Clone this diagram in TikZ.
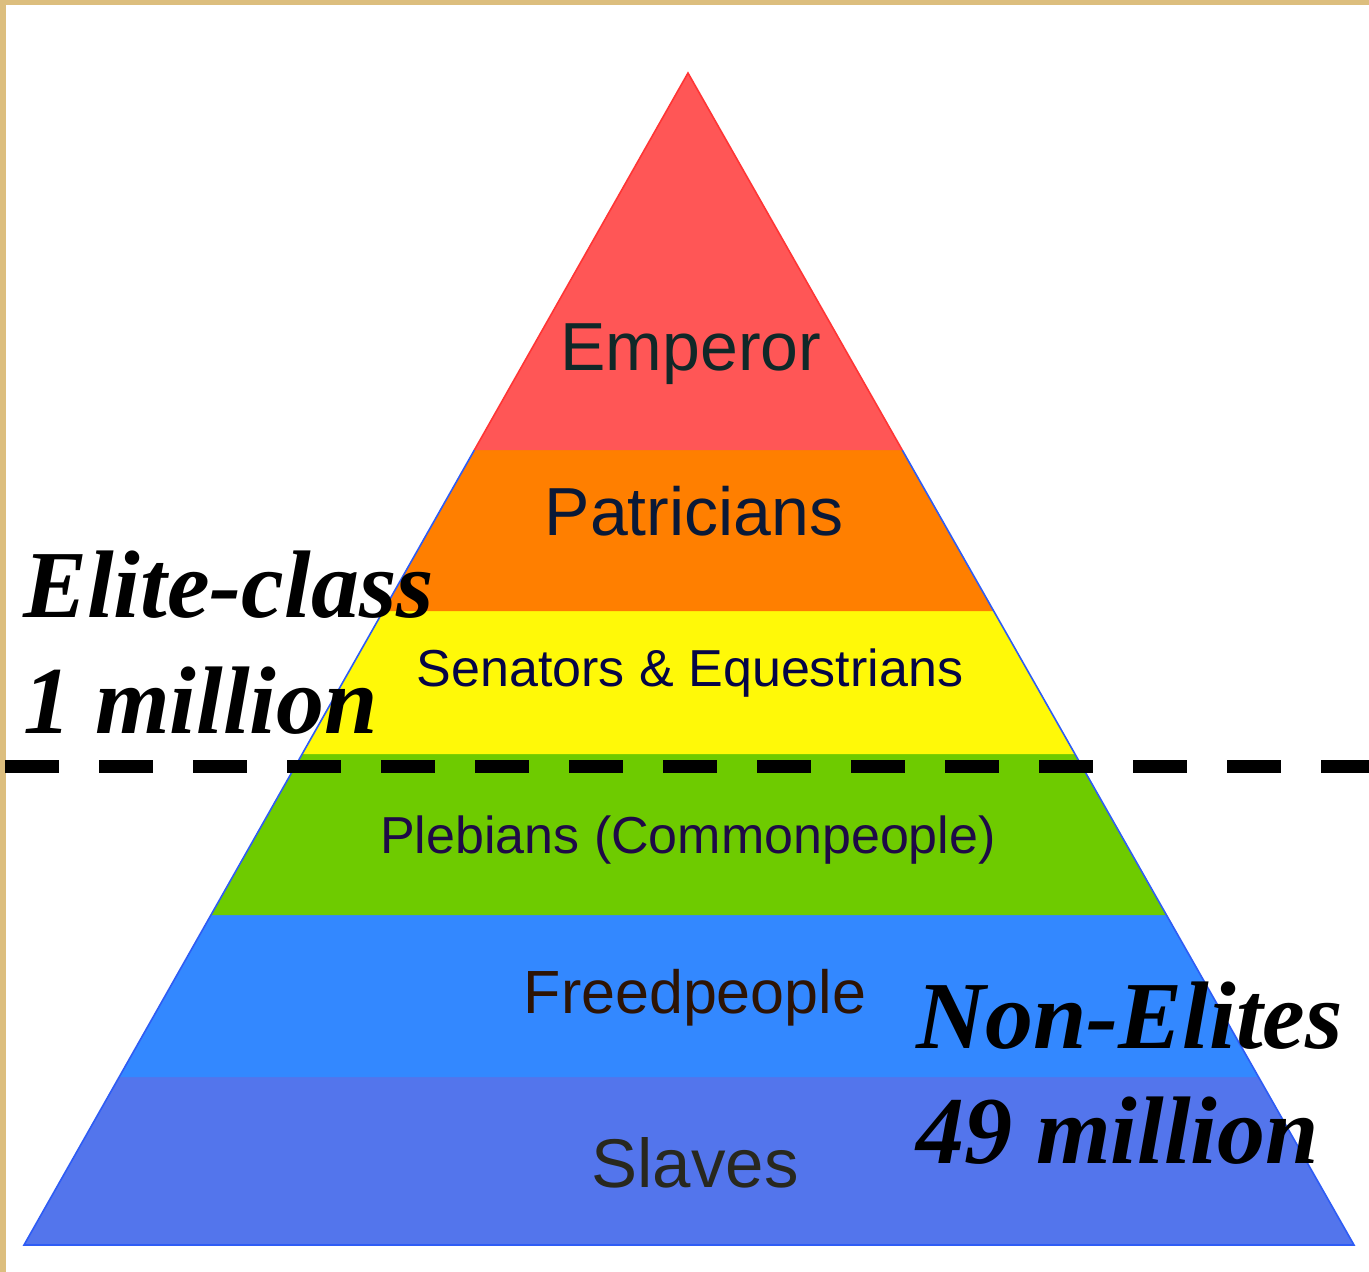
\documentclass[tikz,border=0pt]{standalone}
\usepackage{fontspec}
\setmainfont{Liberation Serif}
\setsansfont{Liberation Sans}
\begin{document}
\begin{tikzpicture}[x=1pt,y=-1pt,
  lbl/.style={font=\sffamily, inner sep=0pt, anchor=base},
  biglbl/.style={font=\fontsize{96}{115}\selectfont\bfseries\itshape, inner sep=0pt, anchor=base west, text=black}]
\definecolor{frame}{HTML}{DCBE7E}
\definecolor{cEmp}{HTML}{FF5656}
\definecolor{cPat}{HTML}{FF7F00}
\definecolor{cSen}{HTML}{FFF908}
\definecolor{cPle}{HTML}{6ECB00}
\definecolor{cFre}{HTML}{3388FF}
\definecolor{cSla}{HTML}{5375EC}
\definecolor{edgeB}{HTML}{2E5CF5}
\definecolor{edgeR}{HTML}{FF3535}
\useasboundingbox (0,0) rectangle (1369,1272);
\fill[white] (0,0) rectangle (1369,1272);
% frame (top and left only)
\fill[frame] (0,0) rectangle (1369,5);
\fill[frame] (0,0) rectangle (6,1272);
% pyramid coordinates
\coordinate (A) at (688,73);
\coordinate (L1) at (474.4,450); \coordinate (R1) at (902.2,450);
\coordinate (L2) at (383.2,611); \coordinate (R2) at (993.7,611);
\coordinate (L3) at (302.2,754); \coordinate (R3) at (1075.0,754);
\coordinate (L4) at (211.0,915); \coordinate (R4) at (1166.5,915);
\coordinate (L5) at (119.2,1077); \coordinate (R5) at (1258.5,1077);
\coordinate (L6) at (24,1245); \coordinate (R6) at (1354,1245);
% bands
\fill[cSla] (L5) -- (R5) -- (R6) -- (L6) -- cycle;
\fill[cFre] (L4) -- (R4) -- (R5) -- (L5) -- cycle;
\fill[cPle] (L3) -- (R3) -- (R4) -- (L4) -- cycle;
\fill[cSen] (L2) -- (R2) -- (R3) -- (L3) -- cycle;
\fill[cPat] (L1) -- (R1) -- (R2) -- (L2) -- cycle;
\draw[edgeB, line width=1.6pt] (L1) -- (L6) -- (R6) -- (R1);
\fill[cEmp] (A) -- (R1) -- (L1) -- cycle;
\draw[edgeR, line width=1.6pt] (L1) -- (A) -- (R1);
% band labels
\node[lbl, font=\sffamily\fontsize{68}{80}\selectfont, text={rgb,255:red,16;green,40;blue,40}] (emp) at (691,370) {Emperor};
\node[lbl, font=\sffamily\fontsize{68}{80}\selectfont, text={rgb,255:red,10;green,25;blue,55}] (pat) at (694,535) {Patricians};
\node[lbl, font=\sffamily\fontsize{52}{62}\selectfont, text={rgb,255:red,5;green,5;blue,70}] (sen) at (690,686) {Senators \& Equestrians};
\node[lbl, font=\sffamily\fontsize{52}{62}\selectfont, text={rgb,255:red,30;green,10;blue,70}] (ple) at (688,853) {Plebians (Commonpeople)};
\node[lbl, font=\sffamily\fontsize{61}{72}\selectfont, text={rgb,255:red,45;green,20;blue,5}] (fre) at (695,1013) {Freedpeople};
\node[lbl, font=\sffamily\fontsize{69}{80}\selectfont, text={rgb,255:red,40;green,40;blue,30}] (sla) at (695,1187) {Slaves};
% dashed divider
\coordinate (d1) at (5,766.5);
\coordinate (d2) at (1369,766.5);
\draw[black, line width=13pt, dash pattern=on 54pt off 40pt] (d1) -- (d2);
% side labels
\node[biglbl] (elite) at (23,617) {Elite-class};
\node[biglbl] (elitenum) at (23,733) {1 million};
\node[biglbl] (non) at (916,1048) {Non-Elites};
\node[biglbl] (nonnum) at (916,1163) {49 million};
\end{tikzpicture}
\end{document}
